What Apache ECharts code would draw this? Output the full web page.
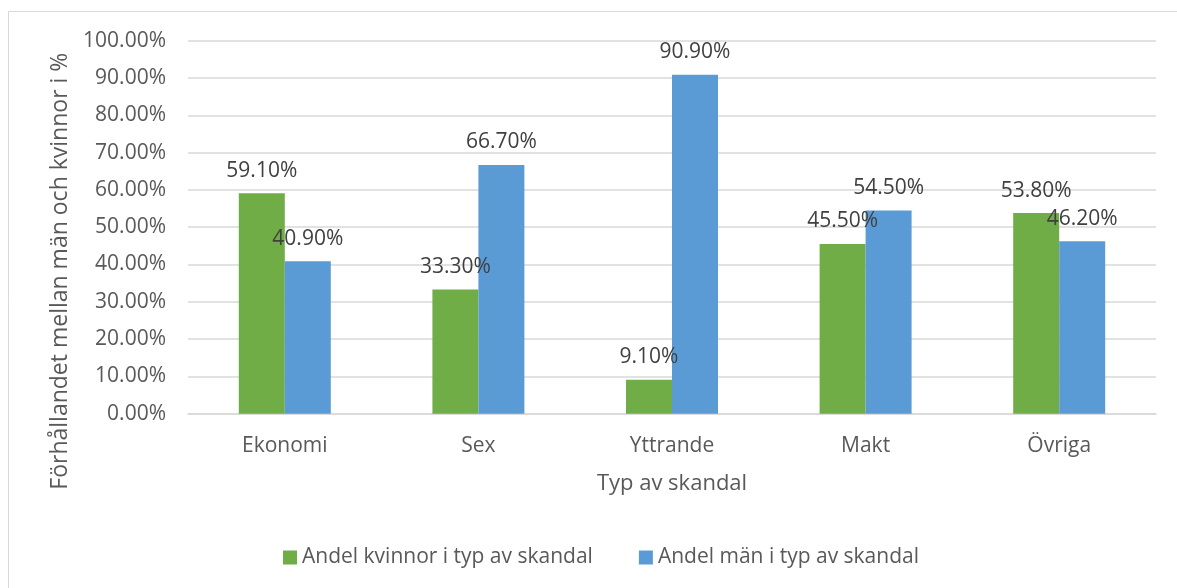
<!DOCTYPE html>
<html>
<head>
    <meta charset="utf-8" />
    <title>Typ av skandal</title>
    <style type="text/css">
        html,body{margin:0;padding:0;background:#fff;}
        #bar{width:1177px;height:588px;}
    </style>
    <script src="https://cdn.jsdelivr.net/npm/echarts@6/dist/echarts.min.js"></script>
</head>
<body>
<div id="bar"></div>
<script>
    var categories = ['Ekonomi', 'Sex', 'Yttrande', 'Makt', 'Övriga'];
    var kvinnor = [59.1, 33.3, 9.1, 45.5, 53.8];
    var man = [40.9, 66.7, 90.9, 54.5, 46.2];
    var seriesNames = ['Andel kvinnor i typ av skandal', 'Andel män i typ av skandal'];

    var font = '"Open Sans", sans-serif';
    var bar = echarts.init(document.getElementById('bar'));

    function pct(v) { return Number(v).toFixed(2) + '%'; }

    bar.setOption({
        animation: false,
        color: ['#70ad47', '#5b9bd5'],
        textStyle: {fontFamily: font},
        graphic: [{
            type: 'rect',
            shape: {x: 8.5, y: 11.5, width: 1300, height: 700},
            style: {fill: 'none', stroke: '#d9d9d9', lineWidth: 1}
        }],
        grid: {left: 188, right: 21, top: 40.7, bottom: 174.3},
        legend: {
            left: 278,
            top: 542,
            itemWidth: 14,
            itemHeight: 14,
            itemGap: 46,
            icon: 'rect',
            textStyle: {fontSize: 21, color: '#595959', fontFamily: font},
            data: seriesNames
        },
        xAxis: {
            type: 'category',
            data: categories,
            name: 'Typ av skandal',
            nameLocation: 'middle',
            nameGap: 59,
            nameTextStyle: {fontSize: 22, color: '#595959', fontFamily: font},
            axisLine: {lineStyle: {color: '#d9d9d9', width: 1.5}},
            axisTick: {show: false},
            axisLabel: {fontSize: 21, color: '#595959', margin: 22, fontFamily: font}
        },
        yAxis: {
            type: 'value',
            min: 0,
            max: 100,
            interval: 10,
            name: 'Förhållandet mellan män och kvinnor i %',
            nameLocation: 'middle',
            nameGap: 116,
            nameTextStyle: {fontSize: 23, color: '#595959', fontFamily: font, padding: [0, 88, 0, 0]},
            axisLine: {show: false},
            axisTick: {show: false},
            splitLine: {lineStyle: {color: '#d9d9d9', width: 1.5}},
            axisLabel: {
                fontSize: 21, color: '#595959', margin: 22, fontFamily: font,
                formatter: function (v) { return pct(v); }
            }
        },
        series: [
            {
                name: seriesNames[0],
                type: 'bar',
                data: kvinnor,
                barWidth: 46,
                barGap: '0%',
                label: {
                    show: true, position: 'top', distance: 12,
                    fontSize: 21, color: '#404040', fontFamily: font,
                    formatter: function (p) { return pct(p.value); }
                }
            },
            {
                name: seriesNames[1],
                type: 'bar',
                data: man,
                barWidth: 46,
                barGap: '0%',
                label: {
                    show: true, position: 'top', distance: 12,
                    fontSize: 21, color: '#404040', fontFamily: font,
                    formatter: function (p) { return pct(p.value); }
                }
            }
        ]
    });
</script>
</body>
</html>
